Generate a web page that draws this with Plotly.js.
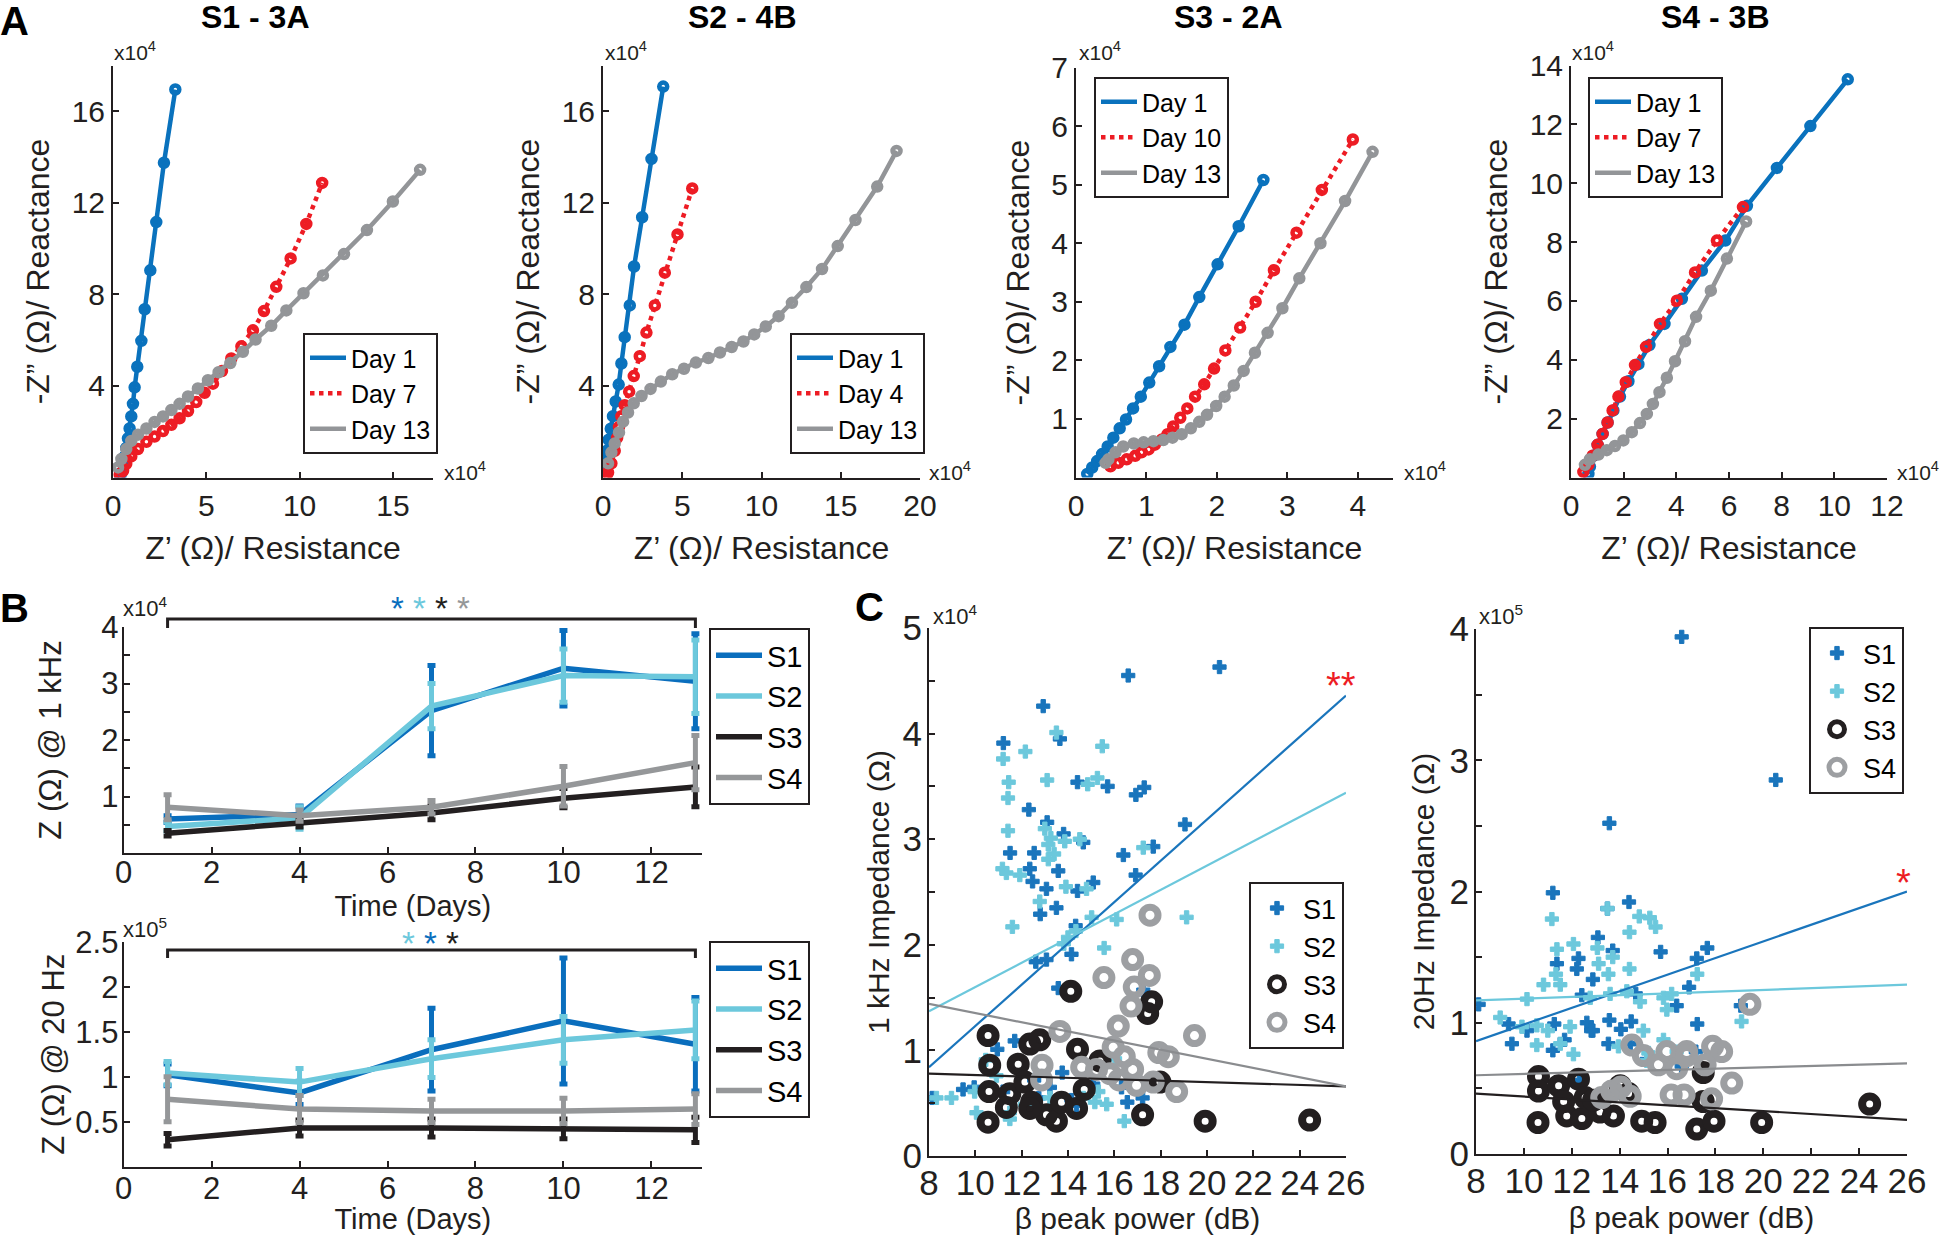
<!DOCTYPE html>
<html><head><meta charset="utf-8">
<script src="https://cdn.plot.ly/plotly-3.0.1.min.js"></script>
<style>html,body{margin:0;padding:0;background:#fff}#chart{width:1950px;height:1235px}</style>
</head><body><div id="chart"></div>
<script>
// ---------------- DATA ----------------
// Panel A : Nyquist plots, values in x10^4 Ohm
const a1Day1Re = [0.39,0.45,0.54,0.63,0.71,0.80,0.89,0.98,1.07,1.16,1.30,1.52,1.70,2.00,2.32,2.73,3.34];
const a1Day1Im = [0.05,0.21,0.60,0.92,1.29,1.71,2.14,2.67,3.22,3.94,4.84,5.97,7.35,9.05,11.16,13.75,16.95];
const a1Day7Re = [0.36,0.54,0.71,0.98,1.34,1.79,2.23,2.68,3.13,3.57,4.02,4.46,4.91,5.36,5.84,6.34,6.88,7.50,8.09,8.75,9.52,10.36,11.21];
const a1Day7Im = [0.13,0.29,0.60,0.92,1.24,1.56,1.79,2.03,2.30,2.59,2.90,3.30,3.70,4.10,4.65,5.20,5.73,6.43,7.27,8.33,9.57,11.08,12.87];
const a1Day13Re = [0.27,0.45,0.71,0.98,1.34,1.79,2.23,2.68,3.13,3.57,4.02,4.55,5.09,5.66,6.29,6.96,7.64,8.48,9.29,10.21,11.25,12.38,13.61,15.00,16.46];
const a1Day13Im = [0.44,0.81,1.24,1.60,1.87,2.14,2.43,2.67,2.95,3.22,3.54,3.89,4.25,4.60,5.00,5.49,6.03,6.63,7.30,8.05,8.83,9.76,10.81,12.06,13.44];

const a2Day1Re = [0.15,0.17,0.25,0.36,0.49,0.63,0.80,0.99,1.16,1.37,1.69,1.96,2.47,3.06,3.80];
const a2Day1Im = [0.40,0.78,1.17,1.65,2.13,2.68,3.32,4.06,4.98,6.13,7.52,9.22,11.37,13.92,17.08];
const a2Day4Re = [0.21,0.32,0.53,0.74,0.89,1.01,1.16,1.37,1.65,1.94,2.32,2.74,3.27,3.90,4.70,5.63];
const a2Day4Im = [0.06,0.22,0.62,1.17,1.73,2.21,2.68,3.16,3.75,4.43,5.30,6.33,7.52,8.95,10.62,12.63];
const a2Day13Re = [0.32,0.53,0.74,1.01,1.27,1.58,1.94,2.43,3.00,3.65,4.37,5.11,5.86,6.65,7.38,8.12,8.86,9.54,10.27,11.08,11.92,12.83,13.82,14.81,15.93,17.30,18.52];
const a2Day13Im = [0.62,1.10,1.49,1.97,2.44,2.84,3.24,3.56,3.87,4.19,4.51,4.75,5.02,5.22,5.46,5.70,5.94,6.25,6.60,7.05,7.63,8.32,9.11,10.11,11.25,12.71,14.27];

const a3Day1Re = [0.16,0.23,0.30,0.37,0.45,0.53,0.62,0.71,0.81,0.92,1.04,1.18,1.34,1.54,1.75,2.01,2.31,2.66];
const a3Day1Im = [0.06,0.17,0.28,0.40,0.53,0.68,0.84,0.99,1.18,1.38,1.62,1.90,2.23,2.61,3.08,3.64,4.29,5.08];
const a3Day10Re = [0.49,0.60,0.72,0.84,0.93,1.03,1.12,1.22,1.30,1.38,1.48,1.58,1.69,1.82,1.96,2.12,2.33,2.55,2.81,3.13,3.49,3.93];
const a3Day10Im = [0.19,0.25,0.31,0.37,0.43,0.48,0.56,0.65,0.74,0.87,1.02,1.18,1.38,1.59,1.86,2.17,2.56,3.00,3.54,4.18,4.91,5.77];
const a3Day13Re = [0.42,0.46,0.56,0.67,0.82,0.96,1.10,1.24,1.37,1.50,1.63,1.75,1.86,1.99,2.11,2.24,2.38,2.54,2.72,2.93,3.17,3.47,3.82,4.21];
const a3Day13Im = [0.25,0.31,0.43,0.53,0.58,0.60,0.62,0.64,0.68,0.74,0.84,0.95,1.07,1.22,1.38,1.57,1.82,2.13,2.47,2.89,3.40,4.00,4.72,5.56];

const a4Day1Re = [0.66,0.72,0.85,1.01,1.20,1.39,1.61,1.86,2.18,2.56,2.98,3.55,4.21,4.97,5.86,6.68,7.82,9.09,10.51];
const a4Day1Im = [0.12,0.37,0.74,1.11,1.48,1.87,2.28,2.75,3.27,3.85,4.50,5.22,6.07,7.03,8.05,9.23,10.52,11.94,13.53];
const a4Day7Re = [0.47,0.66,0.82,1.01,1.20,1.39,1.58,1.80,2.08,2.43,2.85,3.38,4.02,4.71,5.54,6.53];
const a4Day7Im = [0.19,0.43,0.74,1.11,1.48,1.87,2.28,2.75,3.24,3.82,4.44,5.22,6.01,6.97,8.05,9.19];
const a4Day13Re = [0.53,0.72,1.04,1.36,1.67,1.99,2.31,2.62,2.88,3.11,3.36,3.64,3.95,4.33,4.75,5.31,5.92,6.65];
const a4Day13Im = [0.43,0.62,0.78,0.93,1.07,1.26,1.54,1.85,2.16,2.50,2.90,3.39,3.95,4.63,5.46,6.35,7.44,8.70];

const aTitles = ['S1 - 3A','S2 - 4B','S3 - 2A','S4 - 3B'];
const aLegendNames = [['Day 1','Day 7','Day 13'],['Day 1','Day 4','Day 13'],['Day 1','Day 10','Day 13'],['Day 1','Day 7','Day 13']];

// Panel B : impedance over days (top x10^4, bottom x10^5)
const days = [1,4,7,10,13];
const b1S1 = [0.60,0.68,2.52,3.27,3.04], b1S1Err = [0.06,0.15,0.80,0.67,0.84];
const b1S2 = [0.47,0.62,2.60,3.14,3.12], b1S2Err = [0.08,0.20,0.40,0.47,0.65];
const b1S3 = [0.35,0.52,0.71,0.97,1.17], b1S3Err = [0.05,0.06,0.12,0.17,0.35];
const b1S4 = [0.81,0.66,0.81,1.18,1.60], b1S4Err = [0.22,0.10,0.12,0.35,0.48];
const b2S1 = [1.02,0.82,1.30,1.62,1.36], b2S1Err = [0.12,0.13,0.46,0.70,0.52];
const b2S2 = [1.04,0.94,1.20,1.41,1.52], b2S2Err = [0.13,0.15,0.21,0.26,0.32];
const b2S3 = [0.30,0.43,0.43,0.42,0.41], b2S3Err = [0.07,0.09,0.10,0.11,0.14];
const b2S4 = [0.75,0.64,0.62,0.62,0.64], b2S4Err = [0.25,0.15,0.13,0.14,0.17];
const subjects = ['S1','S2','S3','S4'];

// Panel C left : 1 kHz impedance (x10^4) vs beta peak power (dB)
const c1S1x = [16.6,20.54,12.93,11.21,13.65,14.41,15.71,16.93,17.29,19.05,12.31,13.10,13.81,11.50,12.54,14.66,12.35,12.47,13.07,13.58,14.41,15.09,16.39,16.92,17.68,12.80,13.50,14.33,14.15,12.61,13.07,13.58,17.25,8.14,9.47,9.95,10.95,11.70,11.20,12.54,12.74,13.22,13.75,14.15,14.37,15.09,16.31,16.56,17.22];
const c1S1y = [4.55,4.63,4.26,3.91,3.95,3.54,3.50,3.42,3.49,3.14,3.28,3.16,3.05,2.87,2.87,2.97,2.72,2.60,2.53,2.70,2.51,2.59,2.85,2.66,2.93,2.29,2.35,2.18,1.91,1.84,1.86,1.59,1.57,0.55,0.63,0.65,1.01,1.09,0.61,0.72,0.55,0.65,0.79,0.53,0.48,0.68,0.65,0.51,0.55];
const c1S2x = [13.5,12.16,15.48,11.20,11.44,13.10,15.27,14.85,11.41,11.41,13.00,13.26,13.15,13.86,14.51,13.40,13.15,11.17,11.34,11.92,13.91,14.80,17.25,12.78,11.60,15.02,16.10,19.12,15.56,14.00,14.34,13.82,8.32,8.97,9.97,10.45,10.05,10.91,11.49,11.49,12.14,13.22,15.16,15.67,16.03,16.43,15.31,14.66];
const c1S2y = [4.01,3.83,3.88,3.76,3.54,3.56,3.58,3.52,3.39,3.08,3.10,3.01,2.95,2.98,3.00,2.86,2.81,2.72,2.68,2.66,2.55,2.53,2.92,2.41,2.17,2.26,2.24,2.26,1.97,2.07,2.13,2.01,0.55,0.55,0.61,0.91,0.41,0.76,0.41,0.35,0.49,0.55,0.51,0.49,0.92,0.33,0.61,0.55];
const c1S3x = [14.12,17.61,17.44,10.55,12.35,12.78,14.41,11.85,10.62,15.38,10.59,11.49,12.14,12.43,13.07,13.50,13.72,14.37,14.70,17.22,17.97,19.92,24.43,10.55,11.34,12.35];
const c1S3y = [1.56,1.46,1.35,1.14,1.06,1.10,1.01,0.87,0.86,0.90,0.61,0.59,0.70,0.51,0.39,0.33,0.51,0.45,0.63,0.39,0.70,0.33,0.34,0.32,0.46,0.45];
const c1S4x = [17.54,16.79,15.55,16.86,17.51,16.72,16.17,13.65,19.46,15.95,16.43,17.92,18.33,12.88,14.59,16.79,15.81,16.21,16.96,17.68,18.69,12.86,15.23];
const c1S4y = [2.28,1.86,1.69,1.60,1.71,1.42,1.23,1.18,1.14,1.03,0.94,0.98,0.94,0.86,0.84,0.82,0.78,0.72,0.67,0.70,0.61,0.72,0.82];
const cFitX = [8,26];
const c1FitS1 = [0.84,4.36], c1FitS2 = [1.37,3.44], c1FitS3 = [0.78,0.66], c1FitS4 = [1.44,0.66];

// Panel C right : 20 Hz impedance (x10^5) vs beta peak power (dB)
const c2S1x = [16.59,20.52,13.57,11.21,14.39,13.49,13.09,15.71,17.66,17.22,11.38,12.28,13.71,12.21,12.42,12.88,14.67,16.38,16.90,19.06,8.11,9.36,9.50,10.13,11.27,11.70,12.63,12.88,13.57,14.05,14.48,13.53,14.44,15.13,17.24,17.18,16.59,12.32,12.81,11.21];
const c2S1y = [3.94,2.85,2.52,1.99,1.92,1.87,1.65,1.54,1.57,1.49,1.45,1.49,1.55,1.41,1.21,1.33,1.22,1.13,1.27,1.13,1.14,0.99,0.84,0.94,0.99,0.87,1.00,0.94,1.02,0.95,1.01,0.84,0.84,0.72,0.99,0.78,0.67,0.56,0.94,0.79];
const c2S2x = [13.49,11.17,14.82,15.26,15.50,14.41,12.07,13.07,11.38,13.71,14.41,13.12,11.34,13.53,10.82,11.52,12.77,10.13,13.60,14.30,14.85,15.83,16.17,15.97,9.01,9.92,10.54,11.93,11.00,14.99,19.09,17.24,10.54,11.52,12.07,13.95,15.20,15.83,16.38,15.13];
const c2S2y = [1.87,1.79,1.81,1.80,1.73,1.69,1.60,1.57,1.56,1.50,1.41,1.45,1.37,1.37,1.29,1.29,1.19,1.18,1.22,1.24,1.16,1.19,1.22,1.10,1.04,0.97,0.98,0.97,0.94,0.94,1.01,1.37,0.83,0.84,0.76,0.82,0.77,0.87,0.78,0.71];
const c2S3x = [10.61,10.61,11.45,12.28,11.66,11.79,12.42,12.56,13.18,13.74,14.02,14.37,14.92,15.48,17.22,17.49,17.49,17.94,19.93,24.44,10.59,12.91];
const c2S3y = [0.59,0.48,0.52,0.57,0.40,0.29,0.27,0.43,0.32,0.29,0.52,0.46,0.25,0.24,0.19,0.62,0.40,0.25,0.24,0.38,0.24,0.41];
const c2S4x = [19.44,15.97,16.80,17.88,18.26,14.99,15.62,16.38,17.57,16.80,18.68,16.15,16.69,13.25,13.67,14.05,14.44,17.84,14.51];
const c2S4y = [1.14,0.78,0.78,0.82,0.78,0.75,0.68,0.65,0.68,0.75,0.54,0.45,0.45,0.43,0.48,0.51,0.44,0.42,0.83];
const c2FitS1 = [0.86,2.00], c2FitS2 = [1.17,1.29], c2FitS3 = [0.46,0.26], c2FitS4 = [0.60,0.69];

// ---------------- STYLE / LAYOUT HELPERS ----------------
const W = 1950, H = 1235;
const FS = 'Liberation Sans, Arial, sans-serif';
const INK = '#231f20';
const cBlue = '#0a72bd', cRed = '#ed1c24', cGray = '#939598';
const sCol = ['#0a6ebd', '#6cc8dc', '#231f20', '#959799'];
const px = v => v / W, py = v => 1 - v / H;
const domX = (a, b) => [a / W, b / W];
const domY = (t, b) => [1 - b / H, 1 - t / H];
const font = (size, fam) => ({family: fam || FS, size: size, color: INK});

function ax(extra) {
  return Object.assign({
    showline: true, linecolor: INK, linewidth: 2, ticks: 'inside', ticklen: 6, tickwidth: 2,
    tickcolor: INK, showgrid: false, zeroline: false, fixedrange: true, tickmode: 'array',
    tickfont: font(30)
  }, extra);
}
const minorTicks = vals => ({tickvals: vals, ticks: 'inside', ticklen: 6, tickwidth: 2, tickcolor: INK, showgrid: false});

const traces = [];
const aData = [
  [[a1Day1Re, a1Day1Im], [a1Day7Re, a1Day7Im], [a1Day13Re, a1Day13Im]],
  [[a2Day1Re, a2Day1Im], [a2Day4Re, a2Day4Im], [a2Day13Re, a2Day13Im]],
  [[a3Day1Re, a3Day1Im], [a3Day10Re, a3Day10Im], [a3Day13Re, a3Day13Im]],
  [[a4Day1Re, a4Day1Im], [a4Day7Re, a4Day7Im], [a4Day13Re, a4Day13Im]]
];
const aColors = [cBlue, cRed, cGray];
const aDash = ['solid', 'dot', 'solid'];
aData.forEach((panel, p) => {
  const sfx = p === 0 ? '' : String(p + 1);
  panel.forEach((s, k) => {
    traces.push({type: 'scatter', mode: 'lines', x: s[0], y: s[1], name: aLegendNames[p][k],
      xaxis: 'x' + sfx, yaxis: 'y' + sfx, legend: 'legend' + sfx,
      line: {color: aColors[k], width: 4.5, dash: aDash[k]}, hoverinfo: 'skip'});
    traces.push({type: 'scatter', mode: 'markers', x: s[0], y: s[1], name: aLegendNames[p][k], showlegend: false,
      xaxis: 'x' + sfx, yaxis: 'y' + sfx, legend: 'legend' + sfx,
      marker: {symbol: 'circle-open', size: 8, color: aColors[k], line: {color: aColors[k], width: 4.5}}});
  });
});

const bSets = [
  [[b1S1, b1S1Err], [b1S2, b1S2Err], [b1S3, b1S3Err], [b1S4, b1S4Err]],
  [[b2S1, b2S1Err], [b2S2, b2S2Err], [b2S3, b2S3Err], [b2S4, b2S4Err]]
];
bSets.forEach((set, p) => {
  set.forEach((s, k) => {
    traces.push({type: 'scatter', mode: 'lines', x: days, y: s[0], name: subjects[k],
      xaxis: 'x' + (5 + p), yaxis: 'y' + (5 + p), legend: 'legend' + (5 + p),
      line: {color: sCol[k], width: 5.5},
      error_y: {type: 'data', array: s[1], visible: true, color: sCol[k], thickness: 5, width: 4}});
  });
});

const cSets = [
  {xs: [c1S1x, c1S2x, c1S3x, c1S4x], ys: [c1S1y, c1S2y, c1S3y, c1S4y], fits: [c1FitS1, c1FitS2, c1FitS3, c1FitS4]},
  {xs: [c2S1x, c2S2x, c2S3x, c2S4x], ys: [c2S1y, c2S2y, c2S3y, c2S4y], fits: [c2FitS1, c2FitS2, c2FitS3, c2FitS4]}
];
const cMarkerCol = ['#1a75bc', '#6cc8dc', '#231f20', '#9d9fa2'];
const cFitCol = ['#1a75bc', '#6cc8dc', '#231f20', '#8a8c8f'];
cSets.forEach((set, p) => {
  const xa = 'x' + (7 + p), ya = 'y' + (7 + p), leg = 'legend' + (7 + p);
  for (let k = 0; k < 4; k++) {
    const m = k < 2
      ? {symbol: 'cross', size: 11, color: cMarkerCol[k], line: {color: cMarkerCol[k], width: 1}}
      : {symbol: 'circle-open', size: k === 2 ? 15 : 16, color: cMarkerCol[k], line: {color: cMarkerCol[k], width: k === 2 ? 8 : 7}};
    traces.push({type: 'scatter', mode: 'markers', x: set.xs[k], y: set.ys[k], name: subjects[k],
      xaxis: xa, yaxis: ya, legend: leg, marker: m});
  }
  for (let k = 0; k < 4; k++) {
    traces.push({type: 'scatter', mode: 'lines', x: cFitX, y: set.fits[k], name: subjects[k] + ' fit', showlegend: false,
      xaxis: xa, yaxis: ya, legend: leg, line: {color: cFitCol[k], width: 2.2}});
  }
});

// ---------------- AXES ----------------
const titleAx = {text: 'Z’ (Ω)/ Resistance', font: font(32), standoff: 16};
const titleAy = {text: '-Z” (Ω)/ Reactance', font: font(32), standoff: 12};
const A_TOP = 65.5, A_BOT = 477.5;
const bTick = {tickfont: font(31), ticklabelstandoff: -7};
const cTick = {tickfont: font(35), ticklabelstandoff: -5};
const layout = {
  width: W, height: H, margin: {l: 0, r: 0, t: 0, b: 0}, paper_bgcolor: '#fff', plot_bgcolor: 'rgba(0,0,0,0)',
  showlegend: true, hovermode: false,
  xaxis: ax({domain: domX(113, 433), range: [0, 17.15], tickvals: [0, 5, 10, 15], anchor: 'y', title: titleAx}),
  yaxis: ax({domain: domY(A_TOP, A_BOT), range: [0, 18], tickvals: [4, 8, 12, 16], anchor: 'x', title: titleAy}),
  xaxis2: ax({domain: domX(603, 920), range: [0, 20], tickvals: [0, 5, 10, 15, 20], anchor: 'y2', title: titleAx}),
  yaxis2: ax({domain: domY(A_TOP, A_BOT), range: [0, 18], tickvals: [4, 8, 12, 16], anchor: 'x2', title: titleAy}),
  xaxis3: ax({domain: domX(1076, 1393), range: [0, 4.5], tickvals: [0, 1, 2, 3, 4], anchor: 'y3', title: titleAx}),
  yaxis3: ax({domain: domY(67.5, A_BOT), range: [0, 7], tickvals: [1, 2, 3, 4, 5, 6, 7], anchor: 'x3', title: titleAy}),
  xaxis4: ax({domain: domX(1571, 1887), range: [0, 12], tickvals: [0, 2, 4, 6, 8, 10, 12], anchor: 'y4', title: titleAx}),
  yaxis4: ax({domain: domY(A_TOP, A_BOT), range: [0, 14], tickvals: [2, 4, 6, 8, 10, 12, 14], anchor: 'x4', title: titleAy}),
  xaxis5: ax(Object.assign({domain: domX(123.6, 702), range: [0, 13.15], tickvals: [0, 2, 4, 6, 8, 10, 12], anchor: 'y5',
    title: {text: 'Time (Days)', font: font(29), standoff: 0}}, bTick, {ticklabelstandoff: -9})),
  yaxis5: ax(Object.assign({domain: domY(627, 853), range: [0, 4], tickvals: [1, 2, 3, 4], anchor: 'x5',
    minor: minorTicks([0.5, 1.5, 2.5, 3.5]),
    title: {text: 'Z (Ω) @ 1 kHz', font: font(31), standoff: 30}}, bTick, {ticklabelstandoff: -3})),
  xaxis6: ax(Object.assign({domain: domX(123.6, 702), range: [0, 13.15], tickvals: [0, 2, 4, 6, 8, 10, 12], anchor: 'y6',
    title: {text: 'Time (Days)', font: font(29), standoff: 3}}, bTick)),
  yaxis6: ax(Object.assign({domain: domY(941.7, 1166.7), range: [0, 2.5], tickvals: [0.5, 1, 1.5, 2, 2.5], anchor: 'x6',
    title: {text: 'Z (Ω) @ 20 Hz', font: font(31), standoff: 1}}, bTick, {ticklabelstandoff: -3})),
  xaxis7: ax(Object.assign({domain: domX(929, 1346), range: [8, 26], tickvals: [8, 10, 12, 14, 16, 18, 20, 22, 24, 26], anchor: 'y7',
    title: {text: 'β peak power (dB)', font: font(30), standoff: 8}}, cTick)),
  yaxis7: ax(Object.assign({domain: domY(628, 1156), range: [0, 5], tickvals: [0, 1, 2, 3, 4, 5], anchor: 'x7',
    minor: minorTicks([0.5, 1.5, 2.5, 3.5, 4.5]),
    title: {text: '1 kHz Impedance (Ω)', font: font(30), standoff: 4}}, cTick, {ticklabelstandoff: -2})),
  xaxis8: ax(Object.assign({domain: domX(1476, 1907), range: [8, 26], tickvals: [8, 10, 12, 14, 16, 18, 20, 22, 24, 26], anchor: 'y8',
    title: {text: 'β peak power (dB)', font: font(30), standoff: 8}}, cTick)),
  yaxis8: ax(Object.assign({domain: domY(629, 1154), range: [0, 4], tickvals: [0, 1, 2, 3, 4], anchor: 'x8',
    minor: minorTicks([0.5, 1.5, 2.5, 3.5]),
    title: {text: '20Hz Impedance (Ω)', font: font(30), standoff: 6}}, cTick, {ticklabelstandoff: -2})),
  annotations: [], shapes: []
};

// legends
function legend(left, top, size, itemwidth) {
  return {x: px(left), y: py(top), xanchor: 'left', yanchor: 'top', bgcolor: '#fff', bordercolor: INK, borderwidth: 2,
    font: {family: FS, size: size, color: '#000'}, traceorder: 'normal', itemwidth: itemwidth,
    itemclick: false, itemdoubleclick: false};
}
layout.legend = legend(303, 333, 25, 36);
layout.legend2 = legend(790, 333, 25, 36);
layout.legend3 = legend(1094, 77, 25, 36);
layout.legend4 = legend(1588, 77, 25, 36);
layout.legend5 = legend(709, 628, 29, 46);
layout.legend6 = legend(709, 941, 29, 46);
layout.legend7 = legend(1249, 882, 27, 42);
layout.legend8 = legend(1809, 627, 27, 42);

// text annotations
function txt(text, x, y, size, opts) {
  layout.annotations.push(Object.assign({xref: 'paper', yref: 'paper', x: px(x), y: py(y), text: text, showarrow: false,
    xanchor: 'center', yanchor: 'middle', font: {family: FS, size: size, color: '#000'}}, opts || {}));
}
txt('<b>A</b>', -2, 21, 40, {xanchor: 'left'});
txt('<b>B</b>', -2, 608, 40, {xanchor: 'left'});
txt('<b>C</b>', 853, 607, 40, {xanchor: 'left'});
[[255, aTitles[0]], [742, aTitles[1]], [1228, aTitles[2]], [1715, aTitles[3]]].forEach(t => txt('<b>' + t[1] + '</b>', t[0], 17, 32));
const exp4 = 'x10<sup>4</sup>', exp5 = 'x10<sup>5</sup>';
[[112, 442], [603, 927], [1077, 1402], [1570, 1895]].forEach(p => {
  txt(exp4, p[0], 51, 21, {xanchor: 'left', font: font(21)});
  txt(exp4, p[1], 471, 21, {xanchor: 'left', font: font(21)});
});
txt(exp4, 121, 607, 22, {xanchor: 'left', font: font(22)});
txt(exp5, 121, 928, 22, {xanchor: 'left', font: font(22)});
txt(exp4, 931, 615, 22, {xanchor: 'left', font: font(22)});
txt(exp5, 1477, 615, 22, {xanchor: 'left', font: font(22)});
const star = c => '<span style="color:' + c + '">*</span>';
txt([0, 1, 2, 3].map(i => star(sCol[i])).join(' '), 430, 608, 33, {borderpad: 0});
txt([1, 0, 2].map(i => star(sCol[i])).join(' '), 430, 943, 33, {borderpad: 0});
txt(star(cRed) + star(cRed), 1341, 686, 38);
txt(star(cRed), 1903, 883, 38);

// significance brackets (x in days, y just above each axis top)
[[5, 619, 628], [6, 950, 958]].forEach(b => {
  layout.shapes.push({type: 'path', xref: 'x' + b[0], yref: 'paper',
    path: 'M' + days[0] + ',' + py(b[2]) + ' L' + days[0] + ',' + py(b[1]) + ' L' + days[4] + ',' + py(b[1]) + ' L' + days[4] + ',' + py(b[2]),
    line: {color: INK, width: 3}});
});

Plotly.newPlot('chart', traces, layout, {displayModeBar: false, staticPlot: true});
</script></body></html>
